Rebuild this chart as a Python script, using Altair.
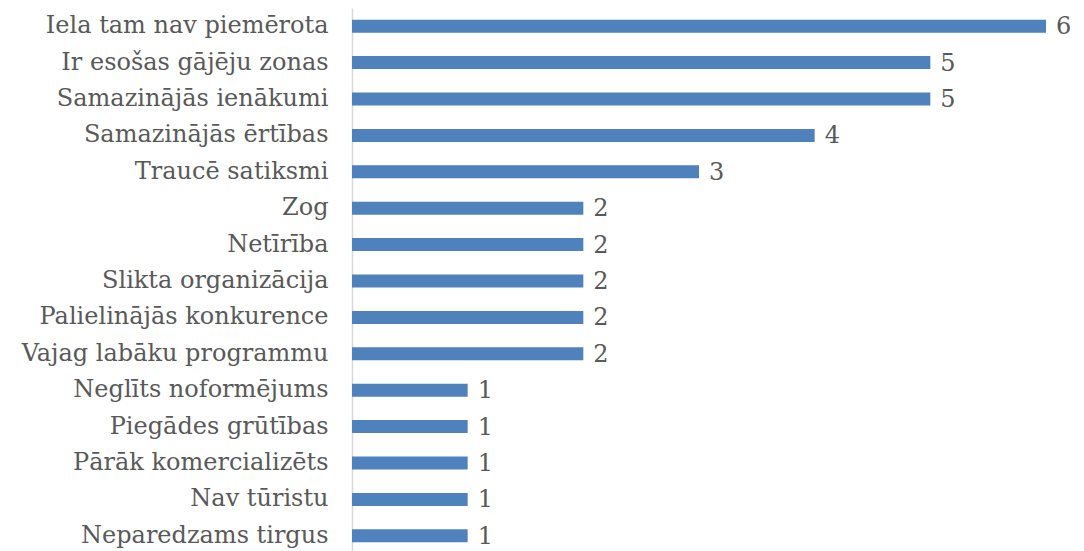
import altair as alt
import pandas as pd

categories = [
    "Iela tam nav piemērota",
    "Ir esošas gājēju zonas",
    "Samazinājās ienākumi",
    "Samazinājās ērtības",
    "Traucē satiksmi",
    "Zog",
    "Netīrība",
    "Slikta organizācija",
    "Palielinājās konkurence",
    "Vajag labāku programmu",
    "Neglīts noformējums",
    "Piegādes grūtības",
    "Pārāk komercializēts",
    "Nav tūristu",
    "Neparedzams tirgus",
]
values = [6, 5, 5, 4, 3, 2, 2, 2, 2, 2, 1, 1, 1, 1, 1]

df = pd.DataFrame({"cat": categories, "val": values})

FONT = "DejaVu Serif"
TXT = "#595959"

y = alt.Y("cat:N", sort=categories, title=None,
          scale=alt.Scale(paddingInner=0, paddingOuter=0),
          axis=alt.Axis(domainColor="#d9d9d9", domainWidth=1.5, ticks=False,
                        labelFont=FONT, labelFontSize=24, labelColor=TXT,
                        labelPadding=24, labelLimit=400))
x = alt.X("val:Q", title=None, scale=alt.Scale(domain=[0, 6]), axis=None)

bars = alt.Chart(df).mark_bar(size=13, color="#4F81BD").encode(x=x, y=y)
labels = alt.Chart(df).mark_text(align="left", baseline="middle", dx=10, dy=1,
                                 font=FONT, fontSize=24, color=TXT).encode(
    x=x, y=y, text="val:Q")

chart = (bars + labels).properties(
    width=694, height=546,
    background="white",
    autosize=alt.AutoSizeParams(type="none"),
    padding={"left": 344, "top": 0, "right": 30, "bottom": 0},
).configure_view(stroke=None, strokeWidth=0)

chart.save("out.html", embed_options={"renderer": "svg", "actions": False})
